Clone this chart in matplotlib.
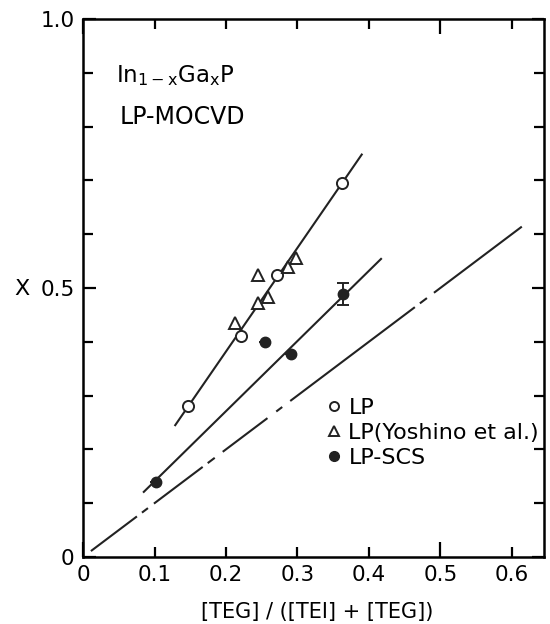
import numpy as np
import matplotlib
matplotlib.use('Agg')
import matplotlib.pyplot as plt
from matplotlib.lines import Line2D

plt.rcParams['font.family'] = ['DejaVu Sans']
plt.rcParams['mathtext.default'] = 'regular'
plt.rcParams['lines.scale_dashes'] = False

# LP (open circles)
lp_x = [0.147, 0.221, 0.271, 0.362]
lp_y = [0.281, 0.411, 0.524, 0.695]

# LP (Yoshino et al.) (triangles)
yosh_x = [0.213, 0.245, 0.245, 0.259, 0.287, 0.298]
yosh_y = [0.435, 0.472, 0.524, 0.483, 0.539, 0.556]

# LP-SCS (filled circles)
scs_x = [0.102, 0.255, 0.291, 0.364]
scs_y = [0.140, 0.400, 0.377, 0.489]
scs_err = [0, 0, 0, 0.020]

# drawn lines
fit_lp_x = [0.129, 0.390]
fit_lp_y = [0.245, 0.748]
fit_scs_x = [0.085, 0.417]
fit_scs_y = [0.121, 0.554]
ref_x = [0.011, 0.615]
ref_y = [0.011, 0.615]

k = '#222222'

fig = plt.figure(figsize=(5.5, 6.24), dpi=100)
ax = fig.add_axes([0.151, 0.1074, 0.838, 0.8622])

ax.plot(fit_lp_x, fit_lp_y, color=k, lw=1.5)
ax.plot(fit_scs_x, fit_scs_y, color=k, lw=1.5)

# irregular dash-dot, lengths in pixels along the line
dash_px = [57.6, 6.3, 7.5, 7.5, 61, 6.3, 8.8, 10, 56, 11, 7.5, 10,
           156, 6.3, 8.8, 8.8, 110, 200]
ln, = ax.plot(ref_x, ref_y, color=k, lw=1.5)
ln.set_dashes([d * 0.72 for d in dash_px])

ax.plot(lp_x, lp_y, 'o', ms=8, mfc='white', mec=k, mew=1.4)
ax.plot(yosh_x, yosh_y, '^', ms=9, mfc='white', mec=k, mew=1.4)
ax.errorbar(scs_x, scs_y, yerr=scs_err, fmt='o', ms=7.5, color=k,
            ecolor=k, elinewidth=1.4, capsize=4, capthick=1.4)

ax.set_xlim(0, 0.645)
ax.set_ylim(0, 1.0)

ax.set_xticks([0, 0.5])
ax.set_xticklabels(['0', '0.5'])
ax.set_xticks([0.1, 0.2, 0.3, 0.4, 0.6], minor=True)
ax.set_xticklabels(['0.1', '0.2', '0.3', '0.4', '0.6'], minor=True)
ax.set_yticks([0, 0.5, 1.0])
ax.set_yticklabels(['0', '0.5', '1.0'])
ax.set_yticks(np.arange(0.1, 1.0, 0.1), minor=True)

ax.tick_params(which='both', direction='in', top=True, right=True,
               labelsize=15.5, width=1.6, pad=6)
ax.tick_params(which='major', length=11)
ax.tick_params(which='minor', length=7)
ax.tick_params(axis='y', which='major', length=9)
for s in ax.spines.values():
    s.set_linewidth(1.8)

ax.text(0.072, 0.883, 'In$_{1-x}$Ga$_x$P', transform=ax.transAxes, fontsize=16.5)
ax.text(0.079, 0.805, 'LP-MOCVD', transform=ax.transAxes, fontsize=17)

fig.text(317 / 550, 1 - 612 / 624, '[TEG] / ([TEI] + [TEG])', ha='center', va='center',
         fontsize=15)
fig.text(22 / 550, 1 - 289 / 624, 'X', ha='center', va='center', fontsize=16)

handles = [
    Line2D([], [], ls='', marker='o', ms=6.5, mfc='white', mec=k, mew=1.4),
    Line2D([], [], ls='', marker='^', ms=7, mfc='white', mec=k, mew=1.4),
    Line2D([], [], ls='', marker='o', ms=7, color=k),
]
ax.legend(handles, ['LP', 'LP(Yoshino et al.)', 'LP-SCS'],
          loc='upper left', bbox_to_anchor=(0.53, 0.296), frameon=False,
          fontsize=16, handlelength=0.6, handletextpad=0.35,
          labelspacing=0.22, borderpad=0, borderaxespad=0)

fig.savefig('out.png', dpi=100)
